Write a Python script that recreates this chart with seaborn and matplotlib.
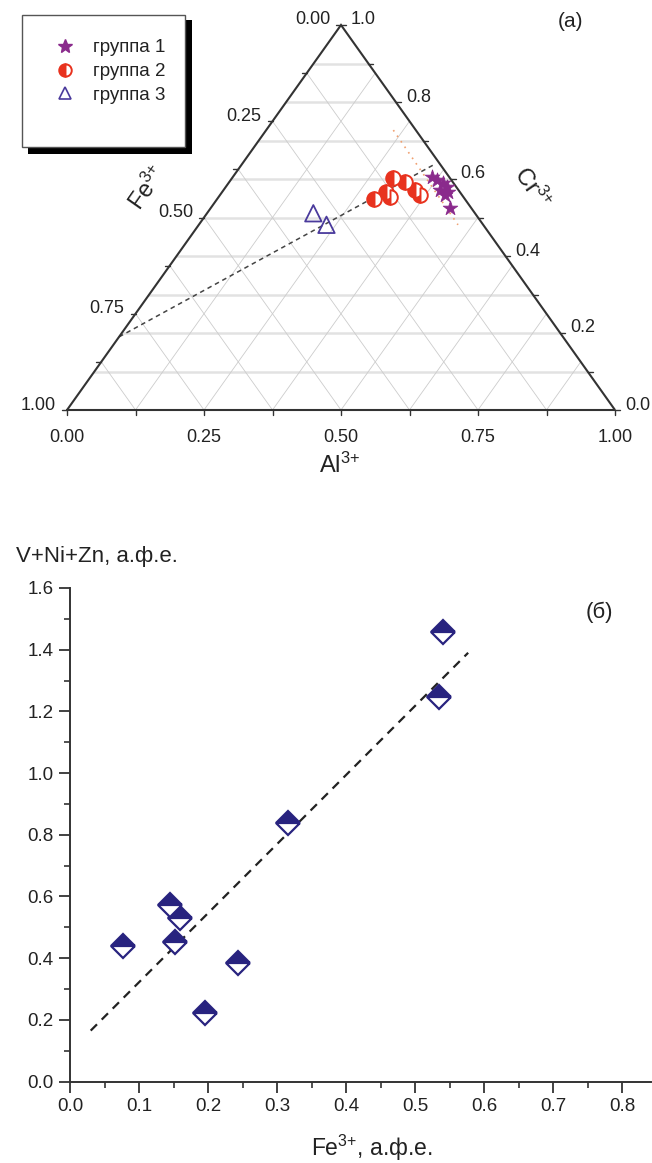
import numpy as np
import seaborn as sns
import matplotlib.pyplot as plt
from matplotlib.patches import Rectangle
from matplotlib.lines import Line2D

sns.set_style("white")
plt.rcParams['font.family'] = ['Liberation Sans', 'DejaVu Sans']
plt.rcParams['mathtext.fontset'] = 'custom'
plt.rcParams['mathtext.rm'] = 'Liberation Sans'
plt.rcParams['mathtext.default'] = 'regular'

# (a) ternary data, fractions of Al and Cr (Fe = 1 - Al - Cr)
g1_al = [0.364, 0.377, 0.391, 0.404, 0.396, 0.412, 0.411, 0.437]
g1_cr = [0.605, 0.597, 0.590, 0.579, 0.571, 0.566, 0.558, 0.525]
g2_al = [0.286, 0.299, 0.313, 0.294, 0.321, 0.350, 0.365]
g2_cr = [0.548, 0.566, 0.553, 0.603, 0.592, 0.571, 0.558]
g3_al = [0.194, 0.233]
g3_cr = [0.511, 0.481]
trend_al = [0.0, 0.350]
trend_cr = [0.19, 0.636]
dot_al = [0.232, 0.473]
dot_cr = [0.727, 0.481]
group_labels = ['группа 1', 'группа 2', 'группа 3']

# (б) V+Ni+Zn vs Fe3+
fe3 = [0.077, 0.145, 0.159, 0.152, 0.196, 0.244, 0.316, 0.535, 0.540]
vnizn = [0.440, 0.572, 0.529, 0.453, 0.221, 0.383, 0.839, 1.247, 1.458]
fit_x = [0.03, 0.577]
fit_y = [0.165, 1.39]

c_star = '#8a2a8c'
c_red = '#e8321e'
c_tri = '#4a3a9c'
c_navy = '#28237f'
c_txt = '#222222'
sup = r'$^{3{+}}$'


def tern(al, cr):
    al = np.asarray(al, dtype=float)
    cr = np.asarray(cr, dtype=float)
    return al + cr / 2, cr


fig = plt.figure(figsize=(6.52, 11.63), dpi=100)

# ---------- (a) ternary ----------
ax1 = fig.add_axes([67 / 652, 1 - 410 / 1163, 548 / 652, 385 / 1163])
ax1.set_xlim(0, 1)
ax1.set_ylim(0, 1)
ax1.axis('off')
px, py = 1 / 548, 1 / 385

for c in np.arange(0.1, 0.95, 0.1):
    ax1.plot([c / 2, 1 - c / 2], [c, c], color='#e2e2e2', lw=1.8, zorder=0)
for v in np.arange(0.125, 0.9, 0.125):
    ax1.plot([v, v + (1 - v) / 2], [0, 1 - v], color='#cccccc', lw=0.6, zorder=0)
    ax1.plot([(1 - v) / 2, 1 - v], [1 - v, 0], color='#cccccc', lw=0.6, zorder=0)
ax1.plot([0, 1, 0.5, 0], [0, 0, 1, 0], color='#333333', lw=1.5, zorder=3,
         clip_on=False, solid_joinstyle='miter')

# ticks and labels
for a in np.arange(0, 1.001, 0.125):
    ax1.plot([a, a], [0, -5 * py], color='#333333', lw=1, clip_on=False)
    if abs(a * 4 - round(a * 4)) < 1e-6:
        ax1.text(a, -19 * py, f'{a:.2f}', ha='center', va='top',
                 fontsize=13, color=c_txt)
for f in np.arange(0, 1.001, 0.125):
    x, y = (1 - f) / 2, 1 - f
    ax1.plot([x, x - 5 * px], [y, y], color='#333333', lw=1, clip_on=False)
    if abs(f * 4 - round(f * 4)) < 1e-6:
        ax1.text(x - 11 * px, y + 5 * py, f'{f:.2f}', ha='right', va='center',
                 fontsize=13, color=c_txt)
for c in np.arange(0, 1.001, 0.1):
    x, y = 1 - c / 2, c
    ax1.plot([x, x + 5 * px], [y, y], color='#333333', lw=1, clip_on=False)
    if round(c * 10) % 2 == 0:
        ax1.text(x + 10 * px, y + 5 * py, f'{c:.1f}', ha='left', va='center',
                 fontsize=13, color=c_txt)

ax1.text(0.498, -55 * py, 'Al' + sup, ha='center', va='center', fontsize=17, color=c_txt)
ax1.text(0.148, 0.577, 'Fe' + sup, ha='center', va='center', fontsize=17,
         rotation=55, color=c_txt)
ax1.text(0.8485, 0.577, 'Cr' + sup, ha='center', va='center', fontsize=17,
         rotation=-55, color=c_txt)
ax1.text(0.918, 1.008, '(a)', ha='center', va='center', fontsize=15, color=c_txt)

tx, ty = tern(trend_al, trend_cr)
sns.lineplot(x=tx, y=ty, ax=ax1, color='#444444', lw=1.1, linestyle=(0, (3, 2.5)),
             sort=False, zorder=2)
dx, dy = tern(dot_al, dot_cr)
sns.lineplot(x=dx, y=dy, ax=ax1, color='#f0a070', lw=1.2, linestyle=(0, (1, 3)),
             sort=False, zorder=2)

x1, y1 = tern(g1_al, g1_cr)
sns.scatterplot(x=x1, y=y1, ax=ax1, marker='*', s=120, color=c_star,
                edgecolor=c_star, linewidth=0.6, zorder=5)
x2, y2 = tern(g2_al, g2_cr)
ax1.plot(x2, y2, ls='none', marker='o', ms=10.5, fillstyle='left', mfc=c_red,
         markerfacecoloralt='white', mec=c_red, mew=1.4, zorder=4)
x3, y3 = tern(g3_al, g3_cr)
sns.scatterplot(x=x3, y=y3, ax=ax1, marker='^', s=140, facecolor='none',
                edgecolor=c_tri, linewidth=1.3, zorder=5)

# legend box with black shadow
fig.patches.append(Rectangle((28 / 652, 1 - 154 / 1163), 164 / 652, 134 / 1163,
                             transform=fig.transFigure, facecolor='black',
                             edgecolor='none', zorder=0))
fig.patches.append(Rectangle((22 / 652, 1 - 147 / 1163), 163 / 652, 132 / 1163,
                             transform=fig.transFigure, facecolor='white',
                             edgecolor='#555555', lw=1.0, zorder=1))
handles = [
    Line2D([], [], ls='none', marker='*', ms=10, color=c_star),
    Line2D([], [], ls='none', marker='o', ms=9, fillstyle='left', mfc=c_red,
           markerfacecoloralt='white', mec=c_red, mew=1.4),
    Line2D([], [], ls='none', marker='^', ms=9, mfc='none', mec=c_tri, mew=1.2),
]
leg = fig.legend(handles, group_labels, loc='upper left',
                 bbox_to_anchor=(44 / 652, 1 - 30 / 1163), frameon=False,
                 borderpad=0, handlelength=1.2, handletextpad=0.9,
                 labelspacing=0.35, fontsize=13.5)
for t in leg.get_texts():
    t.set_color(c_txt)
leg.set_zorder(5)

# ---------- (б) scatter ----------
ax2 = fig.add_axes([70 / 652, 1 - 1081.5 / 1163, 581 / 652, 493.5 / 1163])
sns.lineplot(x=fit_x, y=fit_y, ax=ax2, color='#222222', lw=1.6,
             linestyle=(0, (4, 3)), zorder=2)
ax2.plot(fe3, vnizn, ls='none', marker='D', ms=12.5, fillstyle='top',
         mfc=c_navy, markerfacecoloralt='white', mec=c_navy, mew=1.6, zorder=4)
ax2.set_xlim(0, 0.842)
ax2.set_ylim(0, 1.6)
ax2.set_xticks(np.arange(0, 0.81, 0.1))
ax2.set_xticks(np.arange(0.05, 0.84, 0.1), minor=True)
ax2.set_yticks(np.arange(0, 1.61, 0.2))
ax2.set_yticks(np.arange(0.1, 1.6, 0.2), minor=True)
ax2.xaxis.set_major_formatter(plt.FormatStrFormatter('%.1f'))
ax2.yaxis.set_major_formatter(plt.FormatStrFormatter('%.1f'))
ax2.tick_params(which='major', direction='out', length=8, width=1.3,
                color='#333333', labelsize=13.5, labelcolor=c_txt, pad=4,
                bottom=True, left=True)
ax2.tick_params(which='minor', direction='out', length=4, width=1.2,
                color='#333333', bottom=True, left=True)
sns.despine(ax=ax2)
for s in ['left', 'bottom']:
    ax2.spines[s].set_linewidth(1.4)
    ax2.spines[s].set_color('#333333')
ax2.set_xlabel('')
ax2.set_ylabel('')
fig.text(16 / 652, 1 - 557 / 1163, 'V+Ni+Zn, а.ф.е.', ha='left', va='center',
         fontsize=16, color=c_txt)
fig.text(372 / 652, 1 - 1148 / 1163, 'Fe' + sup + ', а.ф.е.', ha='center',
         va='center', fontsize=16.5, color=c_txt)
fig.text(599 / 652, 1 - 612 / 1163, '(б)', ha='center', va='center',
         fontsize=16, color=c_txt)

fig.savefig('out.png', dpi=100)
